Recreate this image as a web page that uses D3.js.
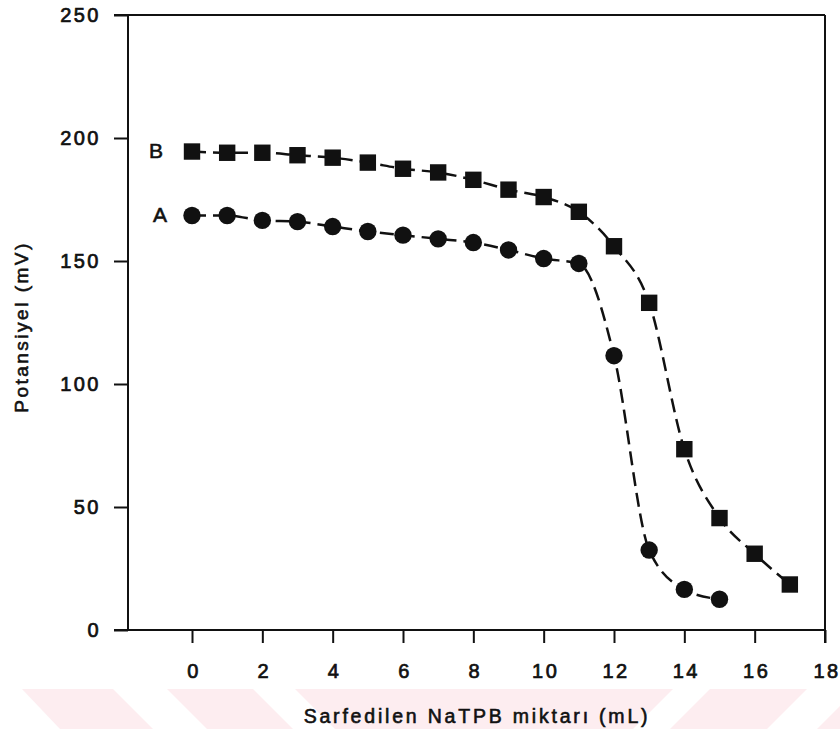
<!DOCTYPE html>
<html>
<head>
<meta charset="utf-8">
<script src="https://cdn.jsdelivr.net/npm/d3@7"></script>
<style>
  body { margin: 0; background: #fff; }
  text { font-family: "Liberation Sans", Arial, sans-serif; fill: #111; }
</style>
</head>
<body>
<script>
// titration data
var volumes = [0, 1, 2, 3, 4, 5, 6, 7, 8, 9, 10, 11, 12, 13, 14, 15, 16, 17];
var seriesA = [168.5, 168.5, 166.5, 166, 164, 162, 160.5, 159, 157.5, 154.5, 151, 149, 111.5, 32.5, 16.5, 12.5];
var seriesB = [194.5, 194, 194, 193, 192, 190, 187.5, 186, 183, 179, 176, 170, 156, 133, 73.5, 45.5, 31, 18.5];
var xTicks = [0, 2, 4, 6, 8, 10, 12, 14, 16, 18];
var yTicks = [0, 50, 100, 150, 200, 250];

var svgWidth = 840;
var svgHeight = 729;

var svg = d3.select("body").append("svg").attr("width", svgWidth).attr("height", svgHeight);

// faint watermark stripes at the bottom of the scan
var stripes = [
  [[22, 689], [113, 689], [153, 729], [60, 729]],
  [[167, 689], [253, 689], [293, 729], [207, 729]],
  [[295, 689], [673, 689], [633, 729], [335, 729]],
  [[710, 689], [807, 689], [767, 729], [670, 729]],
  [[857, 689], [900, 689], [860, 729], [817, 729]]
];
svg.selectAll("polygon.wm")
  .data(stripes)
  .enter()
  .append("polygon")
  .attr("class", "wm")
  .attr("points", d => d.map(p => p.join(",")).join(" "))
  .attr("fill", "#fdedf0");

var x = d3.scaleLinear().domain([-1.82, 18]).range([128, 825]);
var y = d3.scaleLinear().domain([0, 250]).range([630, 15]);

// axes
var bottomAxis = d3.axisBottom(x).tickValues(xTicks).tickSize(13).tickSizeOuter(0).tickPadding(21);
var leftAxis = d3.axisLeft(y).tickValues(yTicks).tickSize(14).tickSizeOuter(0).tickPadding(13);

var gx = svg.append("g").attr("transform", "translate(0,630)").call(bottomAxis);
var gy = svg.append("g").attr("transform", "translate(128,0)").call(leftAxis);

[gx, gy].forEach(function(g) {
  g.select(".domain").remove();
  g.selectAll(".tick line").attr("stroke", "#111").attr("stroke-width", 2);
  g.selectAll(".tick text")
    .attr("font-size", 20)
    .attr("letter-spacing", "2.5px")
    .attr("fill", "#111")
    .attr("stroke", "#111")
    .attr("stroke-width", 0.7)
    .style("font-family", "'Liberation Sans', Arial, sans-serif");
});
gx.selectAll(".tick text").attr("dx", "1.5px");

// frame lines
svg.append("line").attr("x1", 114).attr("x2", x(18)).attr("y1", y(0)).attr("y2", y(0))
  .attr("stroke", "#111").attr("stroke-width", 2);
svg.append("line").attr("x1", 114).attr("x2", x(18)).attr("y1", y(250)).attr("y2", y(250))
  .attr("stroke", "#111").attr("stroke-width", 2);
svg.append("line").attr("x1", x(-1.82)).attr("x2", x(-1.82)).attr("y1", y(250)).attr("y2", y(0))
  .attr("stroke", "#111").attr("stroke-width", 2);
svg.append("line").attr("x1", x(18)).attr("x2", x(18)).attr("y1", y(250)).attr("y2", 643)
  .attr("stroke", "#111").attr("stroke-width", 2);

// dashed fitted curves
var line = d3.line()
  .x((d, i) => x(volumes[i]))
  .y(d => y(d))
  .curve(d3.curveMonotoneX);

[seriesA, seriesB].forEach(function(s) {
  svg.append("path")
    .datum(s)
    .attr("d", line)
    .attr("fill", "none")
    .attr("stroke", "#111")
    .attr("stroke-width", 2.5)
    .attr("stroke-dasharray", "14,7");
});

// markers
svg.selectAll("circle.a")
  .data(seriesA)
  .enter()
  .append("circle")
  .attr("class", "a")
  .attr("cx", (d, i) => x(volumes[i]))
  .attr("cy", d => y(d))
  .attr("r", 8.7)
  .attr("fill", "#111");

svg.selectAll("rect.b")
  .data(seriesB)
  .enter()
  .append("rect")
  .attr("class", "b")
  .attr("x", (d, i) => x(volumes[i]) - 8.2)
  .attr("y", d => y(d) - 8.2)
  .attr("width", 16.4)
  .attr("height", 16.4)
  .attr("fill", "#111");

// series labels
svg.append("text").attr("x", 156).attr("y", 158).attr("text-anchor", "middle")
  .attr("font-size", 21).attr("stroke", "#111").attr("stroke-width", 0.6).text("B");
svg.append("text").attr("x", 160).attr("y", 222).attr("text-anchor", "middle")
  .attr("font-size", 21).attr("stroke", "#111").attr("stroke-width", 0.6).text("A");

// axis titles
svg.append("text")
  .attr("transform", "translate(28,327) rotate(-90)")
  .attr("text-anchor", "middle")
  .attr("font-size", 19)
  .attr("letter-spacing", "2.5px")
  .attr("stroke", "#111").attr("stroke-width", 0.6)
  .text("Potansiyel (mV)");
svg.append("text")
  .attr("x", 477)
  .attr("y", 723)
  .attr("text-anchor", "middle")
  .attr("font-size", 19.5)
  .attr("letter-spacing", "2.8px")
  .attr("stroke", "#111").attr("stroke-width", 0.6)
  .text("Sarfedilen NaTPB miktarı (mL)");
</script>
</body>
</html>
